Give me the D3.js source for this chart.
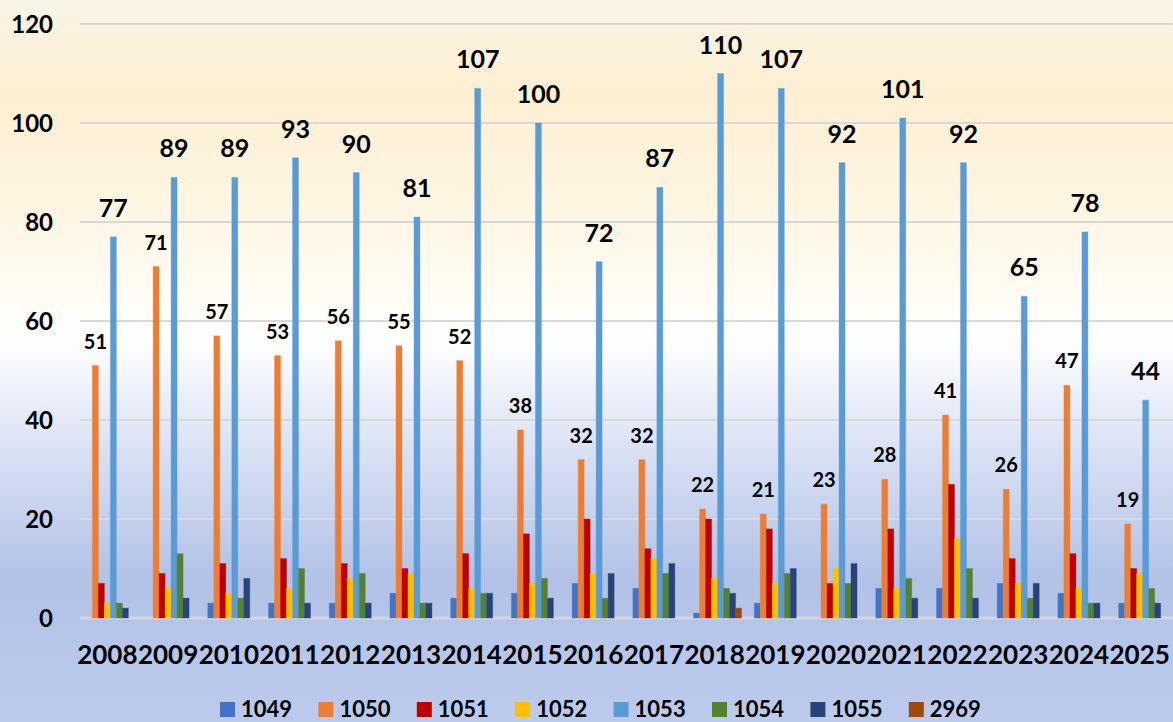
<!DOCTYPE html>
<html>
<head>
<meta charset="utf-8">
<script src="https://cdn.jsdelivr.net/npm/d3@7"></script>
<style>
  html, body { margin: 0; padding: 0; }
  svg { display: block; font-family: Lato, "Open Sans", sans-serif; font-weight: bold; }
</style>
</head>
<body>
<div id="chart"></div>
<script>
var years = ["2008", "2009", "2010", "2011", "2012", "2013", "2014", "2015", "2016",
  "2017", "2018", "2019", "2020", "2021", "2022", "2023", "2024", "2025"];
var seriesNames = ["1049", "1050", "1051", "1052", "1053", "1054", "1055", "2969"];
var seriesColors = ["#4472c4", "#ed7d31", "#c00000", "#ffc000", "#5b9bd5", "#548235", "#264478", "#9e480e"];

var s1049 = [0, 0, 3, 3, 3, 5, 4, 5, 7, 6, 1, 3, 0, 6, 6, 7, 5, 3];
var s1050 = [51, 71, 57, 53, 56, 55, 52, 38, 32, 32, 22, 21, 23, 28, 41, 26, 47, 19];
var s1051 = [7, 9, 11, 12, 11, 10, 13, 17, 20, 14, 20, 18, 7, 18, 27, 12, 13, 10];
var s1052 = [3, 6, 5, 6, 8, 9, 6, 7, 9, 12, 8, 7, 10, 6, 16, 7, 6, 9];
var s1053 = [77, 89, 89, 93, 90, 81, 107, 100, 72, 87, 110, 107, 92, 101, 92, 65, 78, 44];
var s1054 = [3, 13, 4, 10, 9, 3, 5, 8, 4, 9, 6, 9, 7, 8, 10, 4, 3, 6];
var s1055 = [2, 4, 8, 3, 3, 3, 5, 4, 9, 11, 5, 10, 11, 4, 4, 7, 3, 3];
var s2969 = [0, 0, 0, 0, 0, 0, 0, 0, 0, 0, 2, 0, 0, 0, 0, 0, 0, 0];
var yTicks = [0, 20, 40, 60, 80, 100, 120];

var allSeries = [s1049, s1050, s1051, s1052, s1053, s1054, s1055, s2969];
var labelled = { "1050": 20, "1053": 25 };

var W = 1173, H = 722;
var svg = d3.select("#chart").append("svg").attr("width", W).attr("height", H);

// background gradient
var defs = svg.append("defs");
var bg = defs.append("linearGradient").attr("id", "bg")
  .attr("x1", "0%").attr("y1", "0%").attr("x2", "0%").attr("y2", "100%");
bg.selectAll("stop")
  .data([
    { offset: "0%", color: "#faf4e7" },
    { offset: "13%", color: "#fdefd1" },
    { offset: "30%", color: "#fef6e4" },
    { offset: "43%", color: "#fffdf7" },
    { offset: "47%", color: "#ffffff" },
    { offset: "54%", color: "#eef1fa" },
    { offset: "63%", color: "#d8e0f3" },
    { offset: "80%", color: "#b2c2e7" },
    { offset: "100%", color: "#bccbec" }
  ])
  .enter().append("stop")
  .attr("offset", function (d) { return d.offset; })
  .attr("stop-color", function (d) { return d.color; });
svg.append("rect").attr("width", W).attr("height", H).attr("fill", "url(#bg)");

var x0 = d3.scaleBand().domain(years).range([80, W]).paddingInner(0.21).paddingOuter(0.105);
var x1 = d3.scaleBand().domain(seriesNames).range([0, x0.bandwidth()]);
var y = d3.scaleLinear().domain([0, 120]).range([618, 24]);

// gridlines
svg.append("g").selectAll("line")
  .data(yTicks)
  .enter().append("line")
  .attr("x1", 80).attr("x2", W)
  .attr("y1", function (d) { return y(d); })
  .attr("y2", function (d) { return y(d); })
  .attr("stroke", function (d) { return d === 0 ? "#d3d6dc" : "#d9d9d9"; })
  .attr("stroke-width", function (d) { return d === 0 ? 3 : 2; });

// y labels
svg.append("g").selectAll("text")
  .data(yTicks)
  .enter().append("text")
  .attr("x", 53)
  .attr("y", function (d) { return y(d) + 9; })
  .attr("text-anchor", "end")
  .attr("font-size", 24)
  .attr("fill", "#000")
  .text(function (d) { return d; });

// bars
var groups = svg.append("g").selectAll("g")
  .data(years)
  .enter().append("g")
  .attr("transform", function (d) { return "translate(" + x0(d) + ",0)"; });

groups.selectAll("rect")
  .data(function (yr, i) {
    return seriesNames.map(function (s, k) { return { s: s, k: k, v: allSeries[k][i] }; });
  })
  .enter().append("rect")
  .filter(function (d) { return d.v > 0; })
  .attr("x", function (d) { return x1(d.s); })
  .attr("width", x1.bandwidth())
  .attr("y", function (d) { return y(d.v); })
  .attr("height", function (d) { return y(0) - y(d.v); })
  .attr("fill", function (d) { return seriesColors[d.k]; })
  .attr("stroke", function (d) { return seriesColors[d.k]; })
  .attr("stroke-opacity", 0.35)
  .attr("stroke-width", 1);

// data labels
groups.selectAll("text.lbl")
  .data(function (yr, i) {
    return seriesNames
      .map(function (s, k) { return { s: s, k: k, v: allSeries[k][i] }; })
      .filter(function (d) { return labelled[d.s]; });
  })
  .enter().append("text")
  .attr("class", "lbl")
  .attr("x", function (d) { return x1(d.s) + x1.bandwidth() / 2; })
  .attr("y", function (d) { return y(d.v) - (d.s === "1053" ? 20 : 17); })
  .attr("text-anchor", "middle")
  .attr("font-size", function (d) { return labelled[d.s]; })
  .attr("fill", "#000")
  .text(function (d) { return d.v; });

// x labels
svg.append("g").selectAll("text")
  .data(years)
  .enter().append("text")
  .attr("x", function (d) { return x0(d) + x0.bandwidth() / 2 - 3; })
  .attr("y", 664)
  .attr("text-anchor", "middle")
  .attr("font-size", 26)
  .attr("fill", "#000")
  .text(function (d) { return d; });

// legend
var legend = svg.append("g").selectAll("g")
  .data(seriesNames)
  .enter().append("g")
  .attr("transform", function (d, i) { return "translate(" + (220 + i * 98.4) + ",0)"; });
legend.append("rect")
  .attr("y", 702)
  .attr("width", 15).attr("height", 15)
  .attr("fill", function (d, i) { return seriesColors[i]; });
legend.append("text")
  .attr("x", 21)
  .attr("y", 717)
  .attr("font-size", 22)
  .attr("fill", "#000")
  .text(function (d) { return d; });
</script>
</body>
</html>
